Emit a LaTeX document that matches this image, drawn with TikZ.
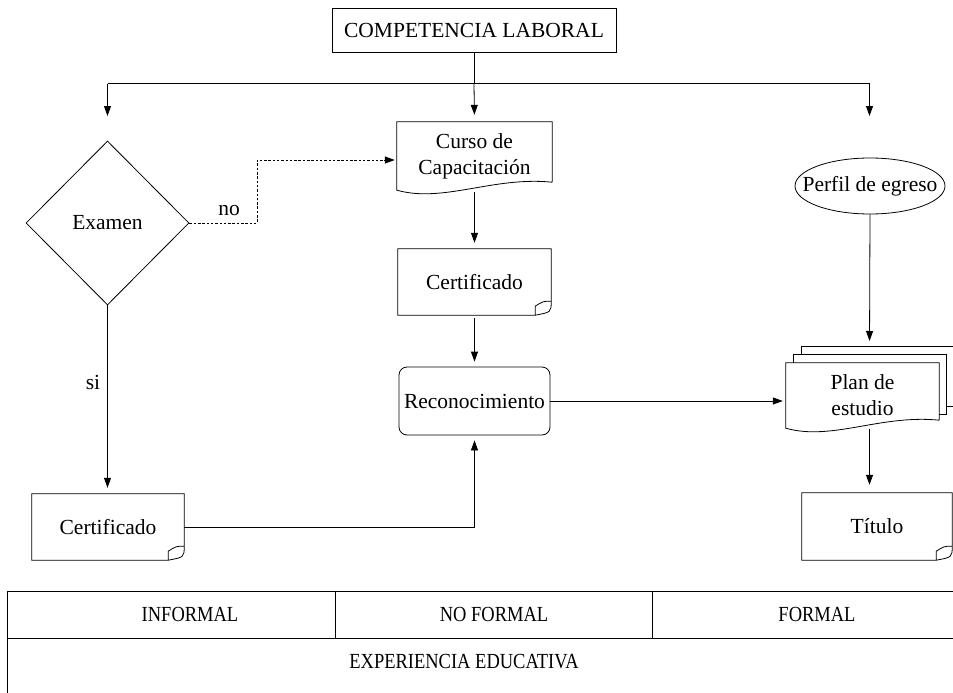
\documentclass[tikz,border=0pt]{standalone}
\usepackage{fontspec}
\setmainfont{Liberation Serif}
\usetikzlibrary{arrows.meta,shapes.geometric,calc}
\newcommand\wavydoc[1]{%
  \draw[line] ($(#1.south east)+(0,-8)$) -- (#1.north east) -- (#1.north west) -- (#1.south west)
    .. controls ($(#1.south west)!0.3!(#1.south east)+(0,13)$) and ($(#1.south west)!0.62!(#1.south east)+(0,-14)$) .. ($(#1.south east)+(0,-8)$);}
\newcommand\folddoc[1]{%
  \draw[line] ($(#1.south east)+(-16,0)$) -- (#1.south west) -- (#1.north west) -- (#1.north east) -- ($(#1.south east)+(0,-14)$)
    .. controls ($(#1.south east)+(0,-3)$) .. ($(#1.south east)+(-16,0)$) -- ($(#1.south east)+(-16,-9)$)
    .. controls ($(#1.south east)+(-8,-14)$) .. ($(#1.south east)+(0,-14)$);}
\begin{document}
\begin{tikzpicture}[x=1pt,y=-1pt,
  every node/.style={font=\fontsize{21.5}{25}\selectfont},
  line/.style={line width=0.8pt},
  arr/.style={line width=0.8pt,-{Triangle[length=10pt,width=7pt]}},
  area/.style 2 args={inner sep=0pt,minimum width=#1,minimum height=#2,align=center},
  tabtext/.style={font=\fontsize{21.5}{25}\selectfont}
]
\useasboundingbox (0,0) rectangle (953,693);

% nodes
\node[line,draw,area={284pt}{44pt}] (comp) at (474,30) {COMPETENCIA LABORAL};
\node[line,draw,shape=diamond,inner sep=0pt,minimum width=163pt,minimum height=164pt] (exam) at (107.5,223) {Examen};
\node[area={155pt}{68pt}] (curso) at (474.5,156) {Curso de\\[1pt]Capacitación};
\node[area={153pt}{66pt}] (cert1) at (474.5,282) {Certificado};
\node[line,draw,rounded corners=8pt,area={151pt}{68pt}] (recon) at (474.5,401) {Reconocimiento};
\node[line,draw,shape=ellipse,inner sep=0pt,minimum width=150pt,minimum height=56pt] (perfil) at (870,186) {\makebox[0pt]{Perfil de egreso}};
\node[area={153pt}{65pt}] (plan) at (862.5,395.5) {Plan de\\[1pt]estudio};
\node[area={152pt}{66pt}] (cert2) at (108,527) {Certificado};
\node[area={150pt}{67pt}] (titulo) at (877,526.5) {Título};

% shapes
\wavydoc{curso}
\folddoc{cert1}
\folddoc{cert2}
\folddoc{titulo}
% back layers of the plan
\draw[line] ($(plan.north west)+(8,0)$) -- ($(plan.north west)+(8,-8)$) -- ($(plan.north east)+(7,-8)$) -- ($(plan.south east)+(7,-14)$) -- ($(plan.south east)+(0,-14)$);
\draw[line] ($(plan.north west)+(16,-8)$) -- ($(plan.north west)+(16,-16)$) -- ($(plan.north east)+(16,-16)$) -- ($(plan.south east)+(16,-22)$) -- ($(plan.south east)+(7,-22)$);
\wavydoc{plan}

% coordinates
\coordinate (split) at (474,83.5);
\coordinate (leftdrop) at (107.5,83.5);
\coordinate (rightdrop) at (869.5,83.5);
\coordinate (leftend) at (107.5,116);
\coordinate (rightend) at (869.5,116);
\coordinate (planback) at (869.5,347);
\coordinate (nobend) at (257,223);
\coordinate (nohigh) at (257,160);

% connectors
\draw[line] (comp.south) -- (split);
\draw[line] (leftdrop) -- (rightdrop);
\draw[arr] (leftdrop) -- (leftend);
\draw[arr] (rightdrop) -- (rightend);
\draw[arr,shorten >=7pt] (split) -- (curso.north);
\draw[arr,shorten <=4pt,shorten >=6pt] ($(curso.south)+(0,-2)$) -- (cert1.north);
\draw[arr,shorten <=3pt,shorten >=5pt] (cert1.south) -- (recon.north);
\draw[arr,shorten >=3pt] (recon.east) -- (recon.east -| plan.west);
\draw[arr,shorten >=6pt] (perfil.south) -- (planback);
\draw[arr,shorten <=5pt,shorten >=8pt] ($(plan.south)+(7,-4)$) -- (titulo.north -| planback);
\draw[arr,shorten >=6pt] (exam.south) -- (exam.south |- cert2.north);
\draw[arr,shorten >=5pt] (cert2.east) -| (recon.south);
\draw[arr,line width=1pt,dash pattern=on 2.5pt off 1.8pt] (exam.east) -- (nobend) -- (nohigh) -- ($(nohigh -| curso.west)+(-2,0)$);
\node (nolab) at (229,211) {no};
\node (silab) at (93,382) {si};

% table
\draw[line] (7,591) -- (953,591);
\draw[line] (7,638) -- (953,638);
\draw[line] (7,591) -- (7,693);
\draw[line] (335,591) -- (335,638);
\draw[line] (652,591) -- (652,638);
\node[tabtext] (informal) at (190,614.5) {\scalebox{0.86}[1]{INFORMAL}};
\node[tabtext] (noformal) at (494,614.5) {\scalebox{0.86}[1]{NO FORMAL}};
\node[tabtext] (formal) at (817,614.5) {\scalebox{0.86}[1]{FORMAL}};
\node[tabtext] (exper) at (464,662) {\scalebox{0.86}[1]{EXPERIENCIA EDUCATIVA}};
\end{tikzpicture}
\end{document}
